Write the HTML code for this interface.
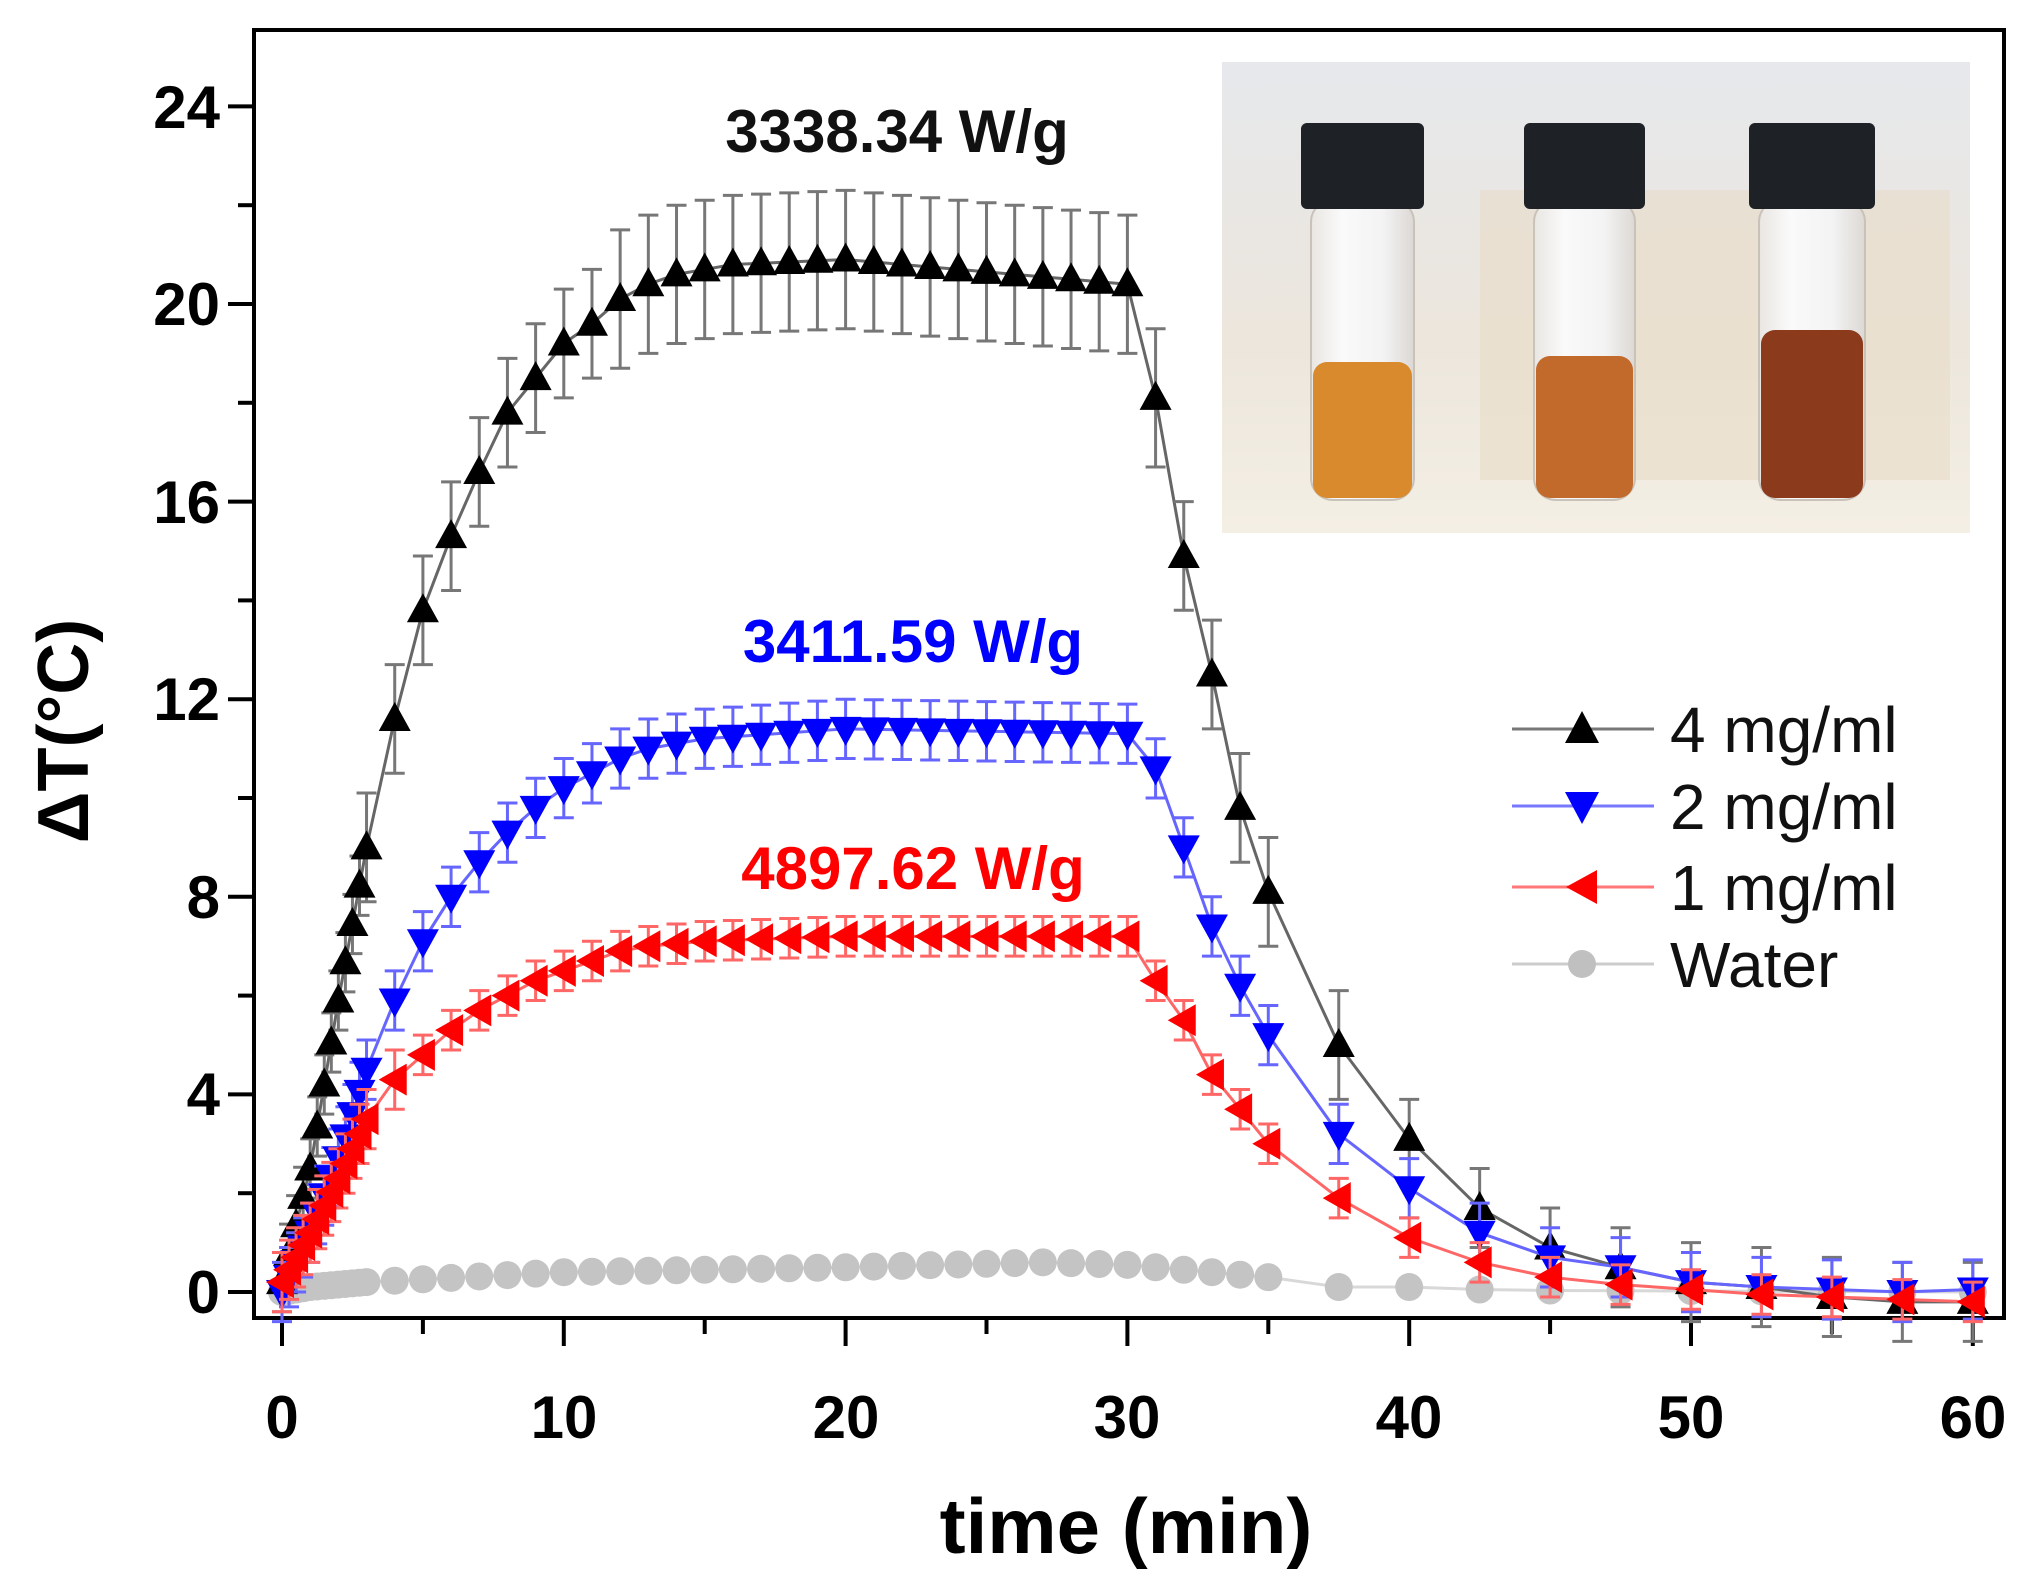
<!DOCTYPE html>
<html><head><meta charset="utf-8"><style>
html,body{margin:0;padding:0;background:#fff;}
svg{display:block;}
text{font-family:"Liberation Sans",Arial,sans-serif;}
</style></head><body>
<svg id="s" width="2022" height="1583" viewBox="0 0 2022 1583" xmlns="http://www.w3.org/2000/svg">
<defs>
<linearGradient id="bg" x1="0" y1="0" x2="0" y2="1">
<stop offset="0" stop-color="#e6e8ec"/><stop offset="0.6" stop-color="#ece6dc"/><stop offset="1" stop-color="#f4efe4"/></linearGradient>
<linearGradient id="glass" x1="0" y1="0" x2="1" y2="0">
<stop offset="0" stop-color="#e9e6e2"/><stop offset="0.3" stop-color="#fafafa"/><stop offset="0.7" stop-color="#f3f3f3"/><stop offset="1" stop-color="#dcd8d4"/></linearGradient>
</defs>
<rect x="0" y="0" width="2022" height="1583" fill="#fff"/>
<rect x="1222" y="62" width="748" height="471" fill="url(#bg)"/>
<rect x="1480" y="190" width="470" height="290" fill="#e8dcc8" opacity="0.6"/>
<g id="vials"></g>
<rect x="254" y="30" width="1750" height="1288" fill="none" stroke="#000" stroke-width="4"/>
<g id="ticks" stroke="#000" stroke-width="4"></g>
<g id="plot"></g>
<g font-size="60" font-weight="bold" text-anchor="end" fill="#000">
<text x="220" y="1313">0</text><text x="220" y="1115">4</text><text x="220" y="918">8</text>
<text x="220" y="720">12</text><text x="220" y="523">16</text><text x="220" y="325">20</text><text x="220" y="128">24</text>
</g>
<g font-size="60" font-weight="bold" text-anchor="middle" fill="#000">
<text x="282" y="1438">0</text><text x="564" y="1438">10</text><text x="846" y="1438">20</text>
<text x="1127" y="1438">30</text><text x="1409" y="1438">40</text><text x="1691" y="1438">50</text><text x="1973" y="1438">60</text>
</g>
<text x="1126" y="1553" font-size="78" font-weight="bold" text-anchor="middle">time (min)</text>
<text transform="translate(88,731) rotate(-90)" font-size="72" font-weight="bold" text-anchor="middle">ΔT(°C)</text>
<text x="897" y="152" font-size="60" font-weight="bold" text-anchor="middle" fill="#111">3338.34 W/g</text>
<text x="913" y="662" font-size="60" font-weight="bold" text-anchor="middle" fill="#0000ff">3411.59 W/g</text>
<text x="913" y="889" font-size="60" font-weight="bold" text-anchor="middle" fill="#ff0000">4897.62 W/g</text>
<g font-size="64" fill="#111">
<line x1="1512" y1="729" x2="1654" y2="729" stroke="#777" stroke-width="3"/>
<polygon points="1582,711 1599,743 1565,743" fill="#000"/>
<text x="1670" y="752">4 mg/ml</text>
<line x1="1512" y1="806" x2="1654" y2="806" stroke="#7777ff" stroke-width="3"/>
<polygon points="1565,792 1599,792 1582,824" fill="#0000ff"/>
<text x="1670" y="829">2 mg/ml</text>
<line x1="1512" y1="887" x2="1654" y2="887" stroke="#ff7777" stroke-width="3"/>
<polygon points="1566,887 1597,870 1597,904" fill="#ff0000"/>
<text x="1670" y="910">1 mg/ml</text>
<line x1="1512" y1="964" x2="1654" y2="964" stroke="#ccc" stroke-width="3"/>
<circle cx="1582" cy="964" r="14" fill="#c0c0c0"/>
<text x="1670" y="987">Water</text>
</g>
</svg>
<script>
var NS="http://www.w3.org/2000/svg";
function el(p,tag,a){var e=document.createElementNS(NS,tag);for(var k in a)e.setAttribute(k,a[k]);p.appendChild(e);return e;}
var X=function(t){return 282+28.18*t;},Y=function(v){return 1292-49.4*v;};
var vg=document.getElementById('vials');
[[1301,1424,362,'#d98a2c'],[1524,1645,356,'#c26a2c'],[1749,1875,330,'#8c3a1c']].forEach(function(v){
 var l=v[0],r=v[1];
 el(vg,'rect',{x:l+10,y:200,width:r-l-20,height:300,rx:22,fill:'url(#glass)',stroke:'#c9c2ba','stroke-width':2});
 el(vg,'rect',{x:l+12,y:v[2],width:r-l-24,height:498-v[2],rx:14,fill:v[3]});
 el(vg,'rect',{x:l,y:123,width:r-l,height:86,rx:6,fill:'#1e2126'});
});
var tg=document.getElementById('ticks');
for(var v=0;v<=24;v+=2){el(tg,'line',{x1:254,x2:v%4==0?228:238,y1:Y(v),y2:Y(v)});}
for(var t=0;t<=60;t+=5){el(tg,'line',{y1:1318,y2:t%10==0?1346:1334,x1:X(t),x2:X(t)});}
function interp(k,t){for(var i=0;i<k.length-1;i++){if(t>=k[i][0]&&t<=k[i+1][0]){var a=k[i],b=k[i+1];return a[1]+(b[1]-a[1])*(t-a[0])/(b[0]-a[0]);}}return k[k.length-1][1];}
var times=[];for(var t=0;t<3;t+=0.25)times.push(t);for(var t=3;t<=35;t++)times.push(t);[37.5,40,42.5,45,47.5,50,52.5,55,57.5,60].forEach(function(t){times.push(t);});
var S=[
 {k:[[0,0.2],[1,2.5],[2,5.9],[3,9],[4,11.6],[5,13.8],[6,15.3],[7,16.6],[8,17.8],[9,18.5],[10,19.2],[11,19.6],[12,20.1],[13,20.4],[14,20.6],[16,20.8],[20,20.9],[30,20.4],[31,18.1],[32,14.9],[33,12.5],[34,9.8],[35,8.1],[37.5,5],[40,3.1],[42.5,1.7],[45,0.9],[47.5,0.5],[50,0.2],[52.5,0.1],[55,-0.1],[57.5,-0.2],[60,-0.2]],e:function(t){return t<3?0.6:(t<12?1.1:(t<=31?1.4:(t<40?1.1:0.8)));},line:'#666',col:'#000',ec:'#777',m:'up'},
 {k:[[0,0],[1,1.2],[2,2.7],[3,4.5],[4,5.9],[5,7.1],[6,8],[7,8.7],[8,9.3],[9,9.8],[10,10.2],[11,10.5],[12,10.8],[13,11],[15,11.2],[20,11.4],[30,11.3],[31,10.6],[32,9],[33,7.4],[34,6.2],[35,5.2],[37.5,3.2],[40,2.1],[42.5,1.2],[45,0.7],[47.5,0.5],[50,0.2],[52.5,0.1],[55,0.05],[57.5,0],[60,0.05]],e:function(t){return 0.6;},line:'#6666ff',col:'#0000ff',ec:'#6666ff',m:'down'},
 {k:[[0,0.2],[1,1.2],[2,2.3],[3,3.5],[4,4.3],[5,4.8],[6,5.3],[7,5.7],[8,6],[9,6.3],[10,6.5],[11,6.7],[12,6.9],[13,7],[15,7.1],[20,7.2],[30,7.2],[31,6.3],[32,5.5],[33,4.4],[34,3.7],[35,3],[37.5,1.9],[40,1.1],[42.5,0.6],[45,0.3],[47.5,0.15],[50,0.05],[52.5,-0.05],[55,-0.1],[57.5,-0.15],[60,-0.2]],e:function(t){return t<5?0.6:0.4;},line:'#ff6666',col:'#ff0000',ec:'#ff6666',m:'left'}
];
var pg=document.getElementById('plot');
var wk=[[0,0],[1,0.1],[3,0.2],[10,0.4],[20,0.5],[27,0.6],[30,0.55],[33,0.4],[35,0.3],[37.5,0.1],[40,0.1],[42.5,0.05],[45,0.03],[60,0]];
var wp=times.map(function(t){return X(t)+','+Y(interp(wk,t));}).join(' ');
el(pg,'polyline',{points:wp,fill:'none',stroke:'#d8d8d8','stroke-width':3});
times.forEach(function(t){el(pg,'circle',{cx:X(t),cy:Y(interp(wk,t)),r:14,fill:'#c4c4c4'});});
S.forEach(function(s){
 var pts=times.map(function(t){return [X(t),Y(interp(s.k,t))];});
 el(pg,'polyline',{points:pts.map(function(p){return p.join(',');}).join(' '),fill:'none',stroke:s.line,'stroke-width':3});
 times.forEach(function(t,i){var p=pts[i],e=s.e(t)*49.4;
  el(pg,'path',{d:'M'+p[0]+','+(p[1]-e)+'V'+(p[1]+e)+'M'+(p[0]-10)+','+(p[1]-e)+'h20M'+(p[0]-10)+','+(p[1]+e)+'h20',stroke:s.ec,'stroke-width':3,fill:'none'});
 });
 times.forEach(function(t,i){var x=pts[i][0],y=pts[i][1],pp;
  if(s.m=='up')pp=[x,y-17,x+16,y+12,x-16,y+12];
  else if(s.m=='down')pp=[x-16,y-12,x+16,y-12,x,y+17];
  else pp=[x-16,y,x+12,y-16,x+12,y+16];
  el(pg,'polygon',{points:pp.join(','),fill:s.col});
 });
});
</script>
</body></html>
